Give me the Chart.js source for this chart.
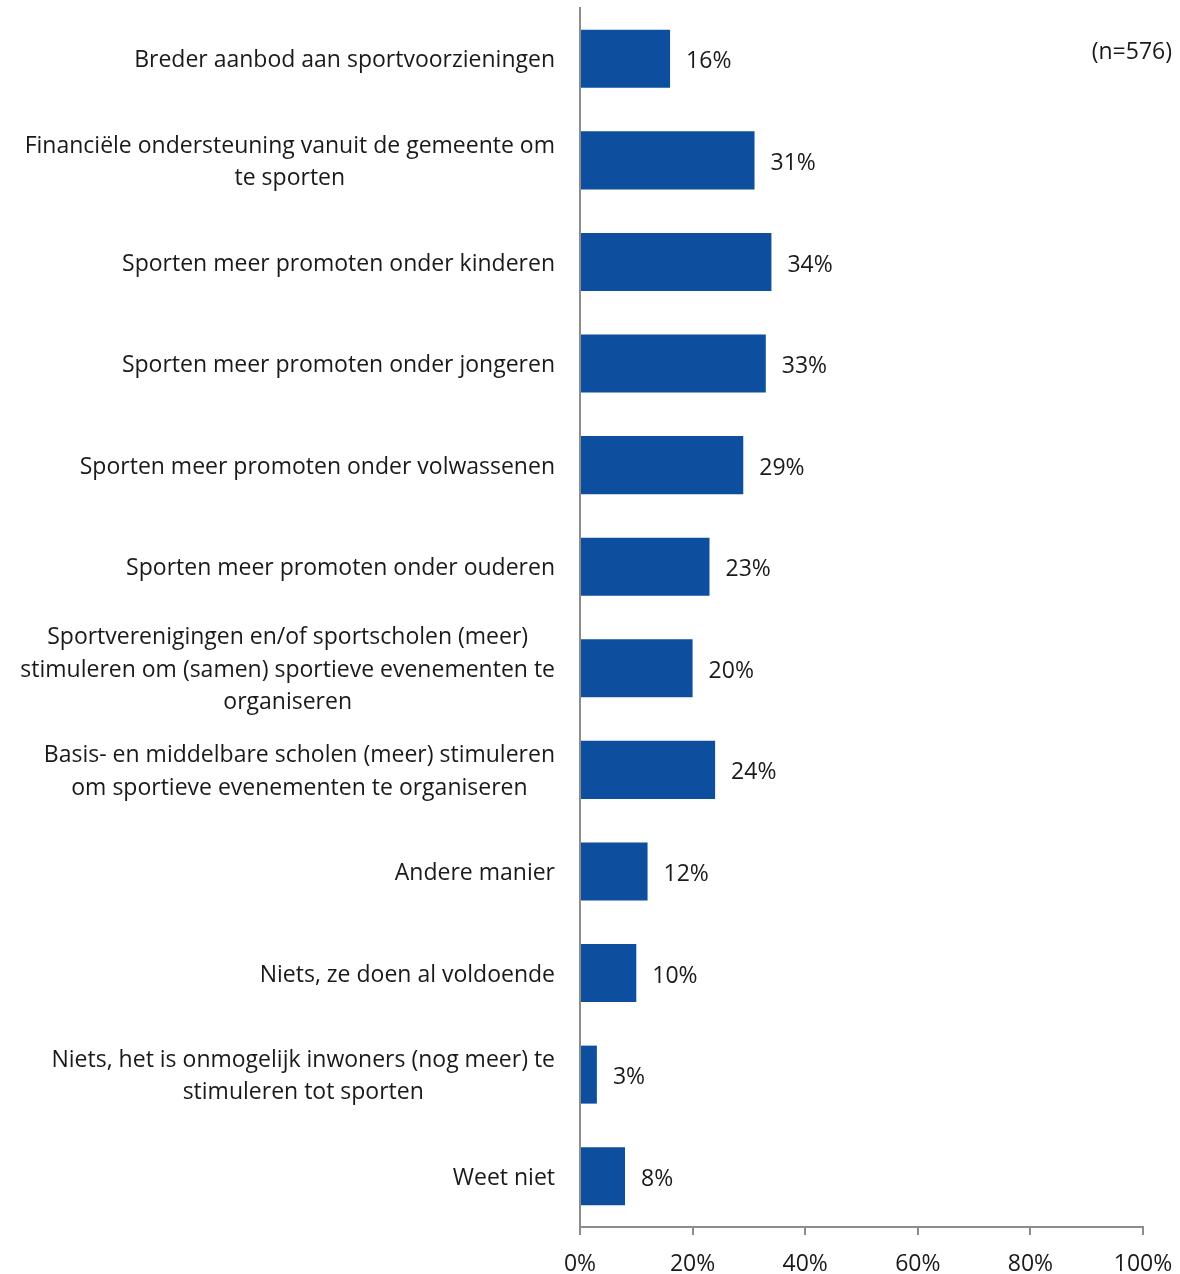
<!DOCTYPE html>
<html>
<head>
<meta charset="utf-8">
<script src="https://cdn.jsdelivr.net/npm/chart.js@4/dist/chart.umd.min.js"></script>
<style>
  html, body { margin: 0; padding: 0; background: #ffffff; }
  #wrap { position: relative; width: 1180px; height: 1274px; }
</style>
</head>
<body>
<div id="wrap"><canvas id="chart" width="1180" height="1274"></canvas></div>
<script>
// Categories (each entry is the list of lines shown for that answer)
const categories = [
  ["Breder aanbod aan sportvoorzieningen"],
  ["Financiële ondersteuning vanuit de gemeente om", "te sporten"],
  ["Sporten meer promoten onder kinderen"],
  ["Sporten meer promoten onder jongeren"],
  ["Sporten meer promoten onder volwassenen"],
  ["Sporten meer promoten onder ouderen"],
  ["Sportverenigingen en/of sportscholen (meer)", "stimuleren om (samen) sportieve evenementen te", "organiseren"],
  ["Basis- en middelbare scholen (meer) stimuleren", "om sportieve evenementen te organiseren"],
  ["Andere manier"],
  ["Niets, ze doen al voldoende"],
  ["Niets, het is onmogelijk inwoners (nog meer) te", "stimuleren tot sporten"],
  ["Weet niet"]
];

// Share of respondents (%)
const percentages = [16, 31, 34, 33, 29, 23, 20, 24, 12, 10, 3, 8];

// X axis ticks (%)
const xTicks = [0, 20, 40, 60, 80, 100];

const sampleNote = "(n=576)";

const FONT_FAMILY = "'Open Sans', 'DejaVu Sans', sans-serif";
const FONT_SIZE = 23;
const LINE_HEIGHT = 32.5;
const TEXT_SHIFT = 2;
const TEXT_COLOR = "#1a1a1a";
const AXIS_COLOR = "#8c8c8c";
const BAR_COLOR = "#0d4f9e";

// Category labels: each block is centred on itself and right-aligned to the axis
const categoryLabels = {
  id: "categoryLabels",
  afterDraw(chart) {
    const ctx = chart.ctx;
    const y = chart.scales.y;
    const right = y.right - 25;
    ctx.save();
    ctx.font = FONT_SIZE + "px " + FONT_FAMILY;
    ctx.fillStyle = TEXT_COLOR;
    ctx.textAlign = "center";
    ctx.textBaseline = "middle";
    categories.forEach((lines, i) => {
      const widths = lines.map(l => ctx.measureText(l).width);
      const maxW = Math.max(...widths);
      const cx = right - maxW / 2;
      const cy = y.getPixelForValue(i) + TEXT_SHIFT;
      const top = cy - (lines.length - 1) * LINE_HEIGHT / 2;
      lines.forEach((l, k) => ctx.fillText(l, cx, top + k * LINE_HEIGHT));
    });
    ctx.restore();
  }
};

// Value labels to the right of each bar
const valueLabels = {
  id: "valueLabels",
  afterDatasetsDraw(chart) {
    const ctx = chart.ctx;
    const meta = chart.getDatasetMeta(0);
    ctx.save();
    ctx.font = FONT_SIZE + "px " + FONT_FAMILY;
    ctx.fillStyle = TEXT_COLOR;
    ctx.textAlign = "left";
    ctx.textBaseline = "middle";
    meta.data.forEach((bar, i) => {
      ctx.fillText(percentages[i] + "%", bar.x + 16, bar.y + TEXT_SHIFT + 1);
    });
    ctx.restore();
  }
};

// Sample size note in the top right corner
const noteLabel = {
  id: "noteLabel",
  afterDraw(chart) {
    const ctx = chart.ctx;
    ctx.save();
    ctx.font = FONT_SIZE + "px " + FONT_FAMILY;
    ctx.fillStyle = TEXT_COLOR;
    ctx.textAlign = "right";
    ctx.textBaseline = "middle";
    ctx.fillText(sampleNote, chart.width - 8, 50 + TEXT_SHIFT);
    ctx.restore();
  }
};

new Chart(document.getElementById("chart"), {
  type: "bar",
  data: {
    labels: categories,
    datasets: [{
      data: percentages,
      backgroundColor: BAR_COLOR,
      borderWidth: 0,
      barPercentage: 0.571,
      categoryPercentage: 1.0
    }]
  },
  options: {
    indexAxis: "y",
    responsive: false,
    animation: false,
    devicePixelRatio: 1,
    layout: { padding: { top: 8, right: 37, left: 0, bottom: 0 } },
    plugins: {
      legend: { display: false },
      tooltip: { enabled: false }
    },
    scales: {
      y: {
        type: "category",
        afterFit(scale) { scale.width = 580; },
        grid: { display: false },
        border: { display: true, color: AXIS_COLOR, width: 2 },
        ticks: { display: false }
      },
      x: {
        type: "linear",
        min: 0,
        max: 100,
        afterBuildTicks(scale) { scale.ticks = xTicks.map(v => ({ value: v })); },
        afterFit(scale) {
          scale.height = 47;
          scale.paddingLeft = 0;
          scale.paddingRight = 0;
        },
        grid: {
          display: true,
          drawOnChartArea: false,
          drawTicks: true,
          tickLength: 8,
          color: AXIS_COLOR,
          lineWidth: 2
        },
        border: { display: true, color: AXIS_COLOR, width: 2 },
        ticks: {
          color: TEXT_COLOR,
          font: { family: FONT_FAMILY, size: FONT_SIZE },
          padding: 16,
          maxRotation: 0,
          callback: v => v + "%"
        }
      }
    }
  },
  plugins: [categoryLabels, valueLabels, noteLabel]
});
</script>
</body>
</html>
